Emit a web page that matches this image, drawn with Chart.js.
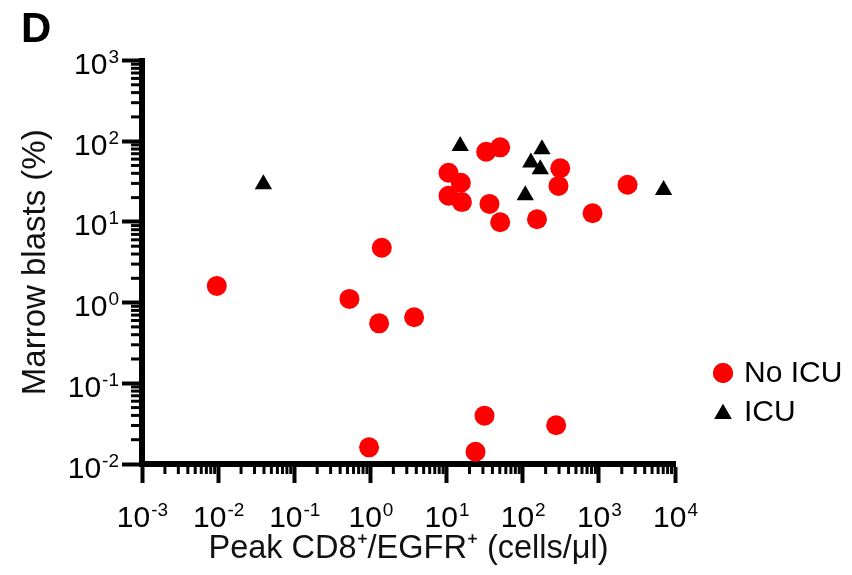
<!DOCTYPE html>
<html>
<head>
    <title>Marrow blasts vs peak CD8+/EGFR+</title>
    <style>
        body { margin: 0; background: #fff; }
        #chart { display: block; }
    </style>
</head>
<body>
    <canvas id="chart" width="852" height="575"></canvas>
    <script src="https://cdn.jsdelivr.net/npm/chart.js"></script>
    <script>
        // values
        const noIcuX = [0.0096, 1.41, 0.53, 1.30, 3.75, 33.1, 50.6, 10.6, 15.4, 10.6, 15.9, 36.6, 50.6, 154, 311, 295, 826, 2382, 0.96, 31.5, 24, 275];
        const noIcuY = [1.61, 4.79, 1.11, 0.553, 0.658, 74.1, 84, 40.7, 30.6, 21.1, 17.6, 16.7, 9.9, 10.8, 46.2, 27.9, 12.8, 28.9, 0.0161, 0.0397, 0.0142, 0.0302];
        const icuX = [0.0393, 15.1, 179, 128, 170, 108, 7080];
        const icuY = [29.3, 87, 79.5, 54.4, 45, 21.4, 24.9];

        const xMajor = [1e-3, 1e-2, 1e-1, 1e0, 1e1, 1e2, 1e3, 1e4];
        const yMajor = [1e-2, 1e-1, 1e0, 1e1, 1e2, 1e3];
        const xExp = ['-3', '-2', '-1', '0', '1', '2', '3', '4'];
        const yExp = ['-2', '-1', '0', '1', '2', '3'];

        const seriesNames = ['No ICU', 'ICU'];
        const seriesColors = ['#ff0000', '#000000'];
        const seriesStyles = ['circle', 'triangle'];

        const FONT = '"Liberation Sans", Arial, Helvetica, sans-serif';

        function toPoints(xs, ys) {
            return xs.map((x, i) => ({ x: x, y: ys[i] }));
        }

        function minorValues(majors) {
            const out = [];
            for (let i = 0; i < majors.length - 1; i++) {
                for (let m = 2; m <= 9; m++) out.push(m * majors[i]);
            }
            return out;
        }

        // minor ticks, power-of-ten labels, legend and panel letter
        const decorPlugin = {
            id: 'decor',
            afterDraw(chart) {
                const ctx = chart.ctx;
                const xs = chart.scales.x;
                const ys = chart.scales.y;
                const area = chart.chartArea;
                ctx.save();
                ctx.strokeStyle = '#000';
                ctx.lineWidth = 3;
                minorValues(xMajor).forEach(v => {
                    const px = xs.getPixelForValue(v);
                    ctx.beginPath();
                    ctx.moveTo(px, area.bottom);
                    ctx.lineTo(px, area.bottom + 10);
                    ctx.stroke();
                });
                minorValues(yMajor).forEach(v => {
                    const py = ys.getPixelForValue(v);
                    ctx.beginPath();
                    ctx.moveTo(area.left, py);
                    ctx.lineTo(area.left - 11, py);
                    ctx.stroke();
                });

                ctx.fillStyle = '#000';
                ctx.textBaseline = 'alphabetic';
                ctx.textAlign = 'left';
                const big = '30px ' + FONT;
                const small = '19px ' + FONT;
                function label(exp, x, baseline, anchor) {
                    ctx.font = big;
                    const w1 = ctx.measureText('10').width;
                    ctx.font = small;
                    const w2 = ctx.measureText(exp).width;
                    const start = anchor === 'center' ? x - (w1 + w2) / 2 : x - (w1 + w2);
                    ctx.font = big;
                    ctx.fillText('10', start, baseline);
                    ctx.font = small;
                    ctx.fillText(exp, start + w1 + 1, baseline - 11);
                }
                xMajor.forEach((v, i) => label(xExp[i], xs.getPixelForValue(v), 527, 'center'));
                yMajor.forEach((v, i) => label(yExp[i], 118, ys.getPixelForValue(v) + 13.5, 'right'));

                // legend
                const legendY = [373, 414];
                seriesNames.forEach((name, i) => {
                    ctx.fillStyle = seriesColors[i];
                    Chart.helpers.drawPoint(ctx, { pointStyle: seriesStyles[i], radius: 10, rotation: 0, borderWidth: 0 }, 723, legendY[i]);
                    ctx.fill();
                    ctx.fillStyle = '#000';
                    ctx.font = '30px ' + FONT;
                    ctx.textBaseline = 'middle';
                    ctx.fillText(name, 744, legendY[i] + (i === 1 ? -1 : 1));
                });

                ctx.font = 'bold 42px ' + FONT;
                ctx.textBaseline = 'alphabetic';
                ctx.fillText('D', 21, 42);
                ctx.restore();
            }
        };

        new Chart(document.getElementById('chart').getContext('2d'), {
            type: 'scatter',
            data: {
                datasets: [
                    {
                        label: seriesNames[0],
                        data: toPoints(noIcuX, noIcuY),
                        pointStyle: seriesStyles[0],
                        pointRadius: 10,
                        backgroundColor: seriesColors[0],
                        borderColor: seriesColors[0],
                        borderWidth: 0
                    },
                    {
                        label: seriesNames[1],
                        data: toPoints(icuX, icuY),
                        pointStyle: seriesStyles[1],
                        pointRadius: 10,
                        backgroundColor: seriesColors[1],
                        borderColor: seriesColors[1],
                        borderWidth: 0
                    }
                ]
            },
            options: {
                responsive: false,
                animation: false,
                clip: false,
                layout: { padding: { left: 0, top: 60.5, right: 177, bottom: 0 } },
                plugins: {
                    legend: { display: false },
                    tooltip: { enabled: false }
                },
                scales: {
                    x: {
                        type: 'logarithmic',
                        min: 1e-3,
                        max: 1e4,
                        afterBuildTicks: scale => { scale.ticks = xMajor.map(v => ({ value: v, major: true })); },
                        afterFit: scale => { scale.height = 111; },
                        ticks: { display: false },
                        grid: { drawOnChartArea: false, tickLength: 19, tickWidth: 4, tickColor: '#000' },
                        border: { display: true, width: 6, color: '#000' },
                        title: {
                            display: true,
                            text: 'Peak CD8⁺/EGFR⁺ (cells/μl)',
                            color: '#111',
                            font: { family: FONT, size: 32.5 },
                            padding: { top: 0, bottom: 6 }
                        }
                    },
                    y: {
                        type: 'logarithmic',
                        min: 1e-2,
                        max: 1e3,
                        afterBuildTicks: scale => { scale.ticks = yMajor.map(v => ({ value: v, major: true })); },
                        afterFit: scale => { scale.width = 142; },
                        ticks: { display: false },
                        grid: { drawOnChartArea: false, tickLength: 20, tickWidth: 4, tickColor: '#000' },
                        border: { display: true, width: 6, color: '#000' },
                        title: {
                            display: true,
                            text: 'Marrow blasts (%)',
                            color: '#111',
                            font: { family: FONT, size: 33 },
                            padding: { top: 16, bottom: 0 }
                        }
                    }
                }
            },
            plugins: [decorPlugin]
        });
    </script>
</body>
</html>
